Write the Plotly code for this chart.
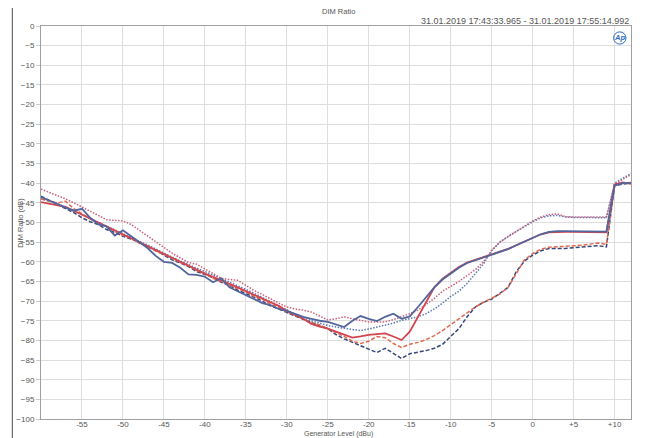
import plotly.graph_objects as go

# generator level (dBu)
level = [-60, -59, -58, -57, -56, -55, -54, -53, -52, -51,
         -50, -49, -48, -47, -46, -45, -44, -43, -42, -41,
         -40, -39, -38, -37, -36, -35, -34, -33, -32, -31,
         -30, -29, -28, -27, -26, -25, -24, -23, -22, -21,
         -20, -19, -18, -17, -16, -15, -14, -13, -12, -11,
         -10, -9, -8, -7, -6, -5, -4, -3, -2, -1,
         0, 1, 2, 3, 4, 5, 6, 7, 8, 9,
         10, 11, 12]

# DIM ratio (dB)
blue_solid = [-43.5, -44.5, -45.3, -46.2, -47.0, -46.5, -48.8, -50.5, -51.0, -53.3,
              -52.0, -53.5, -55.0, -56.5, -58.5, -60.0, -60.3, -61.5, -63.2, -63.3,
              -63.8, -65.2, -64.2, -66.5, -67.5, -68.5, -69.5, -70.5, -71.0, -72.0,
              -72.5, -73.3, -74.0, -74.5, -75.0, -75.3, -76.0, -76.6, -75.0, -73.8,
              -74.5, -75.1, -74.0, -73.2, -74.5, -73.9, -71.5, -69.0, -66.5, -64.5,
              -63.0, -61.5, -60.3, -59.6, -59.0, -58.3, -57.6, -56.8, -55.8, -54.9,
              -53.8, -53.0, -52.4, -52.2, -52.2, -52.2, -52.2, -52.2, -52.2, -52.3,
              -40.6, -40.0, -40.0]

red_solid = [-44.8, -45.2, -45.6, -46.0, -47.0, -48.0, -49.2, -50.0, -51.0, -52.0,
             -53.0, -54.0, -55.0, -56.0, -57.0, -58.0, -59.0, -60.0, -61.0, -62.0,
             -63.0, -63.8, -64.8, -65.6, -66.5, -67.5, -68.5, -69.5, -70.3, -71.2,
             -72.5, -73.5, -74.5, -75.8, -76.5, -77.0, -77.8, -78.5, -79.3, -79.0,
             -78.6, -78.4, -78.2, -79.0, -79.9, -77.8, -74.0, -70.0, -66.5, -64.3,
             -62.8, -61.3, -60.2, -59.5, -58.9, -58.2, -57.5, -56.7, -55.8, -54.8,
             -53.8, -53.0, -52.5, -52.4, -52.4, -52.4, -52.4, -52.4, -52.4, -52.5,
             -40.3, -39.8, -40.2]

blue_dash = [-43.3, -44.3, -45.5, -46.3, -47.5, -48.8, -49.8, -50.5, -51.8, -52.5,
             -53.5, -54.2, -55.0, -56.2, -57.0, -58.3, -59.5, -60.3, -61.2, -62.5,
             -63.2, -64.0, -65.2, -66.0, -67.2, -68.0, -69.0, -70.0, -71.2, -72.0,
             -73.0, -73.8, -74.6, -75.5, -76.3, -77.0, -78.5, -79.6, -80.5, -81.3,
             -82.2, -83.1, -82.0, -83.3, -84.6, -83.4, -83.0, -82.6, -82.0, -81.0,
             -79.0, -77.0, -74.0, -71.5, -70.3, -69.5, -68.0, -66.5, -62.5, -59.8,
             -58.3, -57.2, -56.6, -56.6, -56.6, -56.4, -56.2, -56.0, -55.9, -56.2,
             -40.6, -40.2, -40.0]

red_dash = [-44.0, -44.6, -45.0, -44.6, -46.5, -47.8, -49.0, -50.3, -51.0, -52.3,
            -53.3, -54.0, -55.3, -56.0, -57.3, -58.2, -59.0, -60.2, -61.0, -62.2,
            -63.0, -64.2, -65.0, -66.0, -66.8, -67.6, -68.8, -69.5, -70.8, -71.6,
            -72.8, -73.5, -74.5, -75.5, -76.0, -76.9, -78.0, -79.0, -80.2, -80.8,
            -80.2, -79.0, -79.3, -80.8, -81.8, -81.0, -80.5, -79.8, -78.8, -77.5,
            -76.0, -74.5, -73.0, -71.5, -70.3, -69.3, -68.2, -66.5, -63.0, -59.5,
            -57.9, -56.8, -56.3, -56.2, -56.1, -56.0, -55.8, -55.5, -55.2, -55.6,
            -40.5, -40.0, -39.8]

blue_dot = [-44.0, -44.5, -45.2, -46.0, -47.0, -48.0, -49.0, -50.0, -51.0, -52.0,
            -52.8, -53.8, -54.8, -55.7, -56.8, -57.8, -58.8, -59.8, -60.8, -61.6,
            -62.5, -63.3, -64.2, -65.2, -66.0, -67.0, -68.0, -69.0, -70.0, -71.0,
            -72.2, -73.3, -74.2, -75.0, -75.6, -76.2, -76.6, -76.9, -77.2, -77.5,
            -77.1, -76.6, -76.2, -75.6, -74.9, -74.5, -74.0, -73.2, -72.0, -70.5,
            -68.8, -67.5, -65.5, -63.0, -60.5, -57.2, -55.0, -53.5, -52.2, -51.0,
            -49.8, -48.8, -48.3, -48.2, -48.6, -48.7, -48.7, -48.7, -48.7, -48.8,
            -40.0, -38.8, -37.5]

red_dot = [-41.5, -42.3, -43.2, -44.0, -45.0, -46.0, -47.0, -48.2, -49.3, -49.5,
           -49.6, -50.5, -52.0, -53.5, -55.0, -56.5, -57.8, -59.0, -60.2, -60.6,
           -61.8, -63.0, -64.2, -64.5, -64.7, -66.0, -67.3, -68.3, -69.5, -70.5,
           -71.5, -72.0, -72.3, -72.8, -73.8, -74.8, -74.5, -74.0, -74.5, -74.9,
           -75.3, -75.3, -75.3, -74.7, -74.0, -73.2, -72.3, -70.8, -69.3, -67.5,
           -66.3, -65.0, -63.5, -62.0, -60.0, -57.0, -55.0, -53.6, -52.2, -50.8,
           -49.6, -48.6, -48.0, -47.8, -48.5, -48.6, -48.6, -48.6, -48.6, -48.6,
           -40.3, -39.0, -37.8]

x_ticks = [-55, -50, -45, -40, -35, -30, -25, -20, -15, -10, -5, 0, 5, 10]
x_labels = ["-55", "-50", "-45", "-40", "-35", "-30", "-25", "-20", "-15",
            "-10", "-5", "0", "+5", "+10"]
y_ticks = [0, -5, -10, -15, -20, -25, -30, -35, -40, -45, -50,
           -55, -60, -65, -70, -75, -80, -85, -90, -95, -100]

series = [
    ("Ch1 dotted", blue_dot, "#5b78b4", "1.5px,1.5px", 1.5),
    ("Ch2 dotted", red_dot, "#c9607a", "1.5px,1.5px", 1.5),
    ("Ch1 dashed", blue_dash, "#34467c", "4px,2px", 1.5),
    ("Ch2 dashed", red_dash, "#e06a50", "4px,2px", 1.5),
    ("Ch2", red_solid, "#d2454f", "solid", 1.8),
    ("Ch1", blue_solid, "#52659c", "solid", 1.8),
]

fig = go.Figure()
for name, vals, color, dash, w in series:
    fig.add_trace(go.Scatter(x=level, y=vals, mode="lines", name=name,
                             line=dict(color=color, dash=dash, width=w)))

fam = "Liberation Sans Narrow, Liberation Sans, Arial, sans-serif"
font = dict(family=fam, size=8, color="#555555")
small = dict(family=fam, size=7.5, color="#555555")

# the page body adds 8px, so the figure is made 8px smaller on each side
fig.update_layout(
    width=641, height=430,
    margin=dict(l=33, r=18, t=18, b=19, autoexpand=False),
    paper_bgcolor="white", plot_bgcolor="white",
    showlegend=False,
    font=font,
    xaxis=dict(range=[-60, 12], tickvals=x_ticks, ticktext=x_labels,
               showgrid=True, gridcolor="#dedede", gridwidth=1,
               showline=True, linecolor="#a0a0a0", linewidth=1, mirror=True,
               ticks="", ticklabelstandoff=-3,
               zeroline=False, tickfont=font, automargin=False),
    yaxis=dict(range=[-100, 0], tickvals=y_ticks,
               showgrid=True, gridcolor="#dedede", gridwidth=1,
               showline=True, linecolor="#a0a0a0", linewidth=1, mirror=True,
               ticks="outside", ticklen=4, tickcolor="#cccccc",
               zeroline=False, tickfont=font, automargin=False),
)

# outer frame
fig.add_shape(type="rect", xref="paper", yref="paper",
              x0=-0.0486, x1=1.0254, y0=-0.07, y1=1.0483,
              line=dict(color="#505050", width=1))
# Ap logo ring
fig.add_shape(type="circle", xref="paper", yref="paper",
              x0=0.9705, x1=0.9915, y0=0.954, y1=0.985,
              line=dict(color="#2a6cc0", width=1))

notes = [
    ("DIM Ratio", 0.505, 1.038, "center", 0, small),
    ("31.01.2019 17:43:33.965 - 31.01.2019 17:55:14.992", 1.0, 1.013, "right", 0,
     dict(family=fam, size=9, color="#555555")),
    ("<b><i>Ap</i></b>", 0.981, 0.9695, "center", 0,
     dict(family=fam, size=7.5, color="#2a6cc0")),
    ("DIM Ratio (dB)", -0.035, 0.5, "center", -90, small),
    ("Generator Level (dBu)", 0.505, -0.039, "center", 0,
     dict(family=fam, size=7, color="#555555")),
]
for text, x, y, xa, ang, f in notes:
    fig.add_annotation(text=text, xref="paper", yref="paper", x=x, y=y,
                       xanchor=xa, yanchor="middle", textangle=ang,
                       showarrow=False, font=f)

fig.write_html("out.html")
